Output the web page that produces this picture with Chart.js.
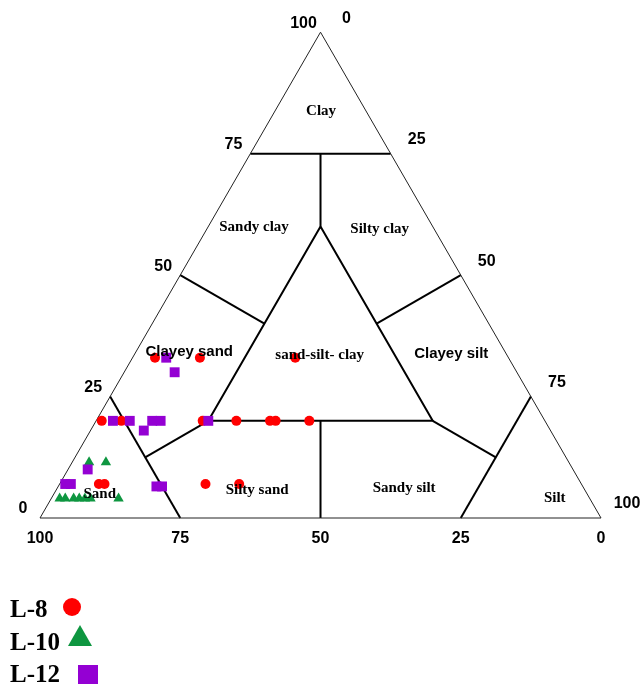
<!DOCTYPE html>
<html>
<head>
<meta charset="utf-8">
<script src="https://cdn.jsdelivr.net/npm/chart.js@4.4.0/dist/chart.umd.min.js"></script>
<style>
  html, body { margin: 0; padding: 0; background: #fff; }
  #wrap { width: 644px; height: 684px; position: relative; }
</style>
</head>
<body>
<div id="wrap"><canvas id="ternary"></canvas></div>
<script>
// Sample compositions in %, sand = 100 - clay - silt
const l8Clay = [20, 20, 20, 20, 20, 20, 20, 33, 33, 33, 7, 7, 7, 7];
const l8Silt = [1, 4.5, 19, 25, 31, 32, 38, 4, 12, 29, 26, 32, 7, 8];

const l10Clay = [11.5, 11.5, 4, 4, 4, 4, 4, 4, 4];
const l10Silt = [3, 6, 1.5, 2.5, 4, 5, 6, 7, 12];

const l12Clay = [20, 20, 20, 20, 18, 20, 33, 30, 6.5, 6.5, 10, 7, 7];
const l12Silt = [3, 6, 10, 11.5, 9.5, 20, 6, 9, 17.5, 18.5, 3.5, 1, 2];

const seriesNames = ["L-8", "L-10", "L-12"];
const tickValues = [0, 25, 50, 75, 100];

// Shepard class boundaries as [clay, silt] vertices
const outline = [[0, 0], [0, 100], [100, 0], [0, 0]];
const boundaries = [
  [[75, 0], [75, 25]],
  [[75, 12.5], [60, 20]],
  [[60, 20], [20, 20], [20, 60], [60, 20]],
  [[50, 0], [40, 20]],
  [[50, 50], [40, 40]],
  [[25, 0], [0, 25]],
  [[12.5, 12.5], [20, 20]],
  [[25, 75], [0, 75]],
  [[12.5, 75], [20, 60]],
  [[20, 40], [0, 50]],
];

// Class names with [clay, silt] anchor
const classNames = ["Clay", "Sandy clay", "Silty clay", "Clayey sand", "sand-silt- clay",
  "Clayey silt", "Silty sand", "Sandy silt", "Silt", "Sand"];
const classAnchors = [[83.8, 8.2], [59.9, 8.2], [59.5, 30.8], [34.2, 9.5], [33.5, 33.1],
  [33.8, 56.4], [5.8, 35.8], [6.2, 61.8], [4.1, 89.7], [4.9, 8.2]];
const sansClasses = ["Clayey sand", "Clayey silt"];

const SQRT3_2 = Math.sqrt(3) / 2;

function toXY(clay, silt) {
  return { x: silt + clay / 2, y: clay * SQRT3_2 };
}

function samplePoints(clay, silt) {
  return clay.map((c, i) => toXY(c, silt[i]));
}

function boundaryDataset(verts, width, color) {
  return {
    data: verts.map((v) => toXY(v[0], v[1])),
    showLine: true,
    borderColor: color,
    borderWidth: width,
    pointRadius: 0,
    fill: false,
    order: 2,
  };
}

const RED = "#ff0000";
const GREEN = "#0e9640";
const PURPLE = "#9400d3";

const datasets = [
  {
    label: seriesNames[2],
    data: samplePoints(l12Clay, l12Silt),
    pointStyle: "rect",
    pointRadius: 7,
    backgroundColor: PURPLE,
    borderColor: PURPLE,
    borderWidth: 0,
    order: 0,
  },
  {
    label: seriesNames[1],
    data: samplePoints(l10Clay, l10Silt),
    pointStyle: "triangle",
    pointRadius: 6,
    backgroundColor: GREEN,
    borderColor: GREEN,
    borderWidth: 0,
    order: 0,
  },
  {
    label: seriesNames[0],
    data: samplePoints(l8Clay, l8Silt),
    pointStyle: "circle",
    pointRadius: 5,
    backgroundColor: RED,
    borderColor: RED,
    borderWidth: 0,
    order: 1,
  },
  boundaryDataset(outline, 1, "#222"),
  ...boundaries.map((b) => boundaryDataset(b, 2, "#000")),
];

// Draw axis ticks, class names and the legend
const ternaryText = {
  id: "ternaryText",
  afterDatasetsDraw(chart) {
    const ctx = chart.ctx;
    const sx = chart.scales.x;
    const sy = chart.scales.y;
    const px = (p) => [sx.getPixelForValue(p.x), sy.getPixelForValue(p.y)];

    ctx.save();
    ctx.fillStyle = "#000";
    ctx.textAlign = "center";
    ctx.textBaseline = "middle";

    // tick labels
    ctx.font = "bold 16px 'Liberation Sans', Arial, sans-serif";
    tickValues.forEach((v) => {
      // bottom: sand
      let [x, y] = px(toXY(0, 100 - v));
      ctx.fillText(String(v), x, y + 21);
      // left: clay
      [x, y] = px(toXY(v, 0));
      ctx.fillText(String(v), x - 17, y - 9);
      // right: silt
      [x, y] = px(toXY(100 - v, v));
      ctx.fillText(String(v), x + 26, y - 14);
    });

    // class names
    classNames.forEach((name, i) => {
      const [x, y] = px(toXY(classAnchors[i][0], classAnchors[i][1]));
      ctx.font = sansClasses.includes(name)
        ? "bold 15px 'Liberation Sans', Arial, sans-serif"
        : "bold 15px 'Liberation Serif', 'Times New Roman', serif";
      ctx.fillText(name, x, y);
    });

    // legend
    ctx.textAlign = "left";
    ctx.textBaseline = "alphabetic";
    ctx.font = "bold 25px 'Liberation Serif', 'Times New Roman', serif";
    ctx.fillText(seriesNames[0], 10, 617);
    ctx.fillText(seriesNames[1], 10, 650);
    ctx.fillText(seriesNames[2], 10, 682);

    ctx.fillStyle = RED;
    ctx.beginPath();
    ctx.arc(72, 607, 9, 0, Math.PI * 2);
    ctx.fill();

    ctx.fillStyle = GREEN;
    ctx.beginPath();
    ctx.moveTo(80, 625);
    ctx.lineTo(92, 646);
    ctx.lineTo(68, 646);
    ctx.closePath();
    ctx.fill();

    ctx.fillStyle = PURPLE;
    ctx.fillRect(78, 665, 20, 20);

    ctx.restore();
  },
};

// 5.61 px per percent, sand corner at (40, 518)
const ctx = document.getElementById("ternary");
new Chart(ctx, {
  type: "scatter",
  data: { datasets: datasets },
  options: {
    responsive: true,
    maintainAspectRatio: false,
    animation: false,
    layout: { padding: 0, autoPadding: false },
    plugins: {
      legend: { display: false },
      tooltip: { enabled: false },
    },
    scales: {
      x: { type: "linear", display: false, min: -7.13, max: 107.66 },
      y: { type: "linear", display: false, min: -29.59, max: 92.34 },
    },
  },
  plugins: [ternaryText],
});
</script>
</body>
</html>
